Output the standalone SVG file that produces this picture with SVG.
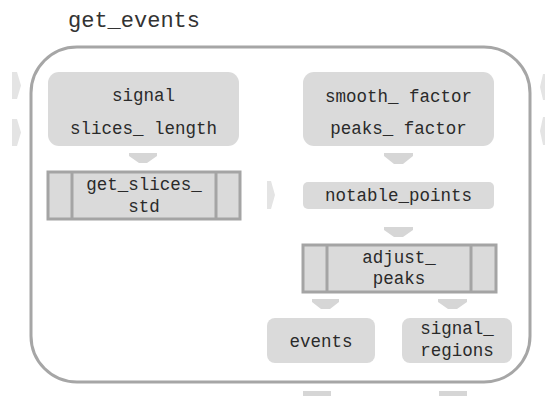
<svg xmlns="http://www.w3.org/2000/svg" width="545" height="396" viewBox="0 0 545 396">
<defs>
<style>
.t{font-family:"Liberation Mono","Courier New",monospace;font-size:17.5px;fill:#2a2a2a;text-anchor:middle}
.title{font-family:"Liberation Mono","Courier New",monospace;font-size:22px;fill:#333}
.node{fill:#dadada}
.sub{fill:#dadada;stroke:#a4a4a4;stroke-width:3}
.div{stroke:#a4a4a4;stroke-width:3}
.arr{fill:#d6d6d6}
.stub{fill:#e4e4e4}
</style>
</defs>
<rect width="545" height="396" fill="#ffffff"/>
<text class="title" x="68" y="27">get_events</text>
<rect id="container" x="31" y="47" width="499" height="335" rx="46" fill="none" stroke="#a6a6a6" stroke-width="3"/>
<g id="stubs">
<polygon class="stub" points="12,72 17,72 21,85.5 17,99 12,99"/>
<polygon class="stub" points="12,119 17,119 21,132.5 17,146 12,146"/>
<polygon class="stub" points="545,74 543,74 540,87 543,100 545,100"/>
<polygon class="stub" points="545,117 543,117 540,131 543,145 545,145"/>
<polygon class="stub" points="267,181 271,181 275,195 271,209 267,209"/>
</g>
<g id="connectors">
<polygon class="arr" points="129,153 157,153 157,156 147,163 139,163 129,156"/>
<polygon class="arr" points="384,153 413,153 413,156 403,164 394,164 384,156"/>
<polygon class="arr" points="384,227 413,227 413,230 403,237 394,237 384,230"/>
<polygon class="arr" points="312,299 339,299 339,302 330,309 321,309 312,302"/>
<polygon class="arr" points="438,299 467,299 467,302 457,309 448,309 438,302"/>
<rect class="arr" x="303" y="391" width="28" height="5"/>
<rect class="arr" x="439" y="391" width="28" height="5"/>
</g>
<g id="n_inputs_left">
<rect class="node" x="48" y="72" width="191" height="74" rx="11"/>
<text class="t" x="143.5" y="101">signal</text>
<text class="t" x="143.5" y="134">slices_ length</text>
</g>
<g id="n_get_slices_std">
<rect class="sub" x="48" y="172" width="192" height="47"/>
<line class="div" x1="72" y1="172" x2="72" y2="219"/>
<line class="div" x1="216" y1="172" x2="216" y2="219"/>
<text class="t" x="144" y="190">get_slices_</text>
<text class="t" x="144" y="212">std</text>
</g>
<g id="n_inputs_right">
<rect class="node" x="303" y="72" width="191" height="74" rx="11"/>
<text class="t" x="398.5" y="102">smooth_ factor</text>
<text class="t" x="398.5" y="134">peaks_ factor</text>
</g>
<g id="n_notable_points">
<rect class="node" x="303" y="182" width="191" height="27" rx="5"/>
<text class="t" x="398.5" y="201">notable_points</text>
</g>
<g id="n_adjust_peaks">
<rect class="sub" x="303" y="245" width="193" height="47"/>
<line class="div" x1="327" y1="245" x2="327" y2="292"/>
<line class="div" x1="471" y1="245" x2="471" y2="292"/>
<text class="t" x="399" y="263">adjust_</text>
<text class="t" x="399" y="284">peaks</text>
</g>
<g id="n_events">
<rect class="node" x="267" y="318" width="108" height="45" rx="8"/>
<text class="t" x="321" y="347">events</text>
</g>
<g id="n_signal_regions">
<rect class="node" x="402" y="318" width="110" height="45" rx="8"/>
<text class="t" x="457" y="334">signal_</text>
<text class="t" x="457" y="356">regions</text>
</g>
</svg>
